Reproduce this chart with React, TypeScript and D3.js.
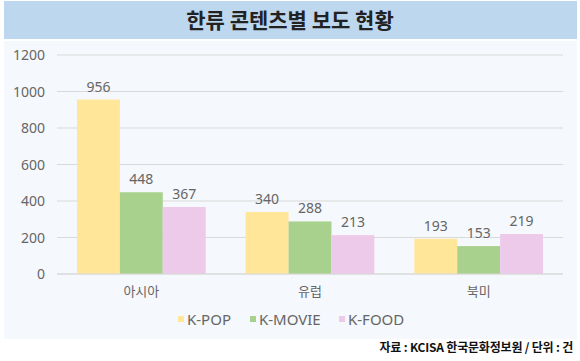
import React, { useEffect, useRef } from 'react';
import * as d3 from 'd3';

const regions = ['아시아', '유럽', '북미'];
const seriesNames = ['K-POP', 'K-MOVIE', 'K-FOOD'];
const kpop = [956, 340, 193];
const kmovie = [448, 288, 153];
const kfood = [367, 213, 219];
const yTicks = [0, 200, 400, 600, 800, 1000, 1200];
const colors = ['#FFE699', '#A9D18E', '#EECAEA'];

const W = 580;
const H = 361;
const FONT = "'Noto Sans', 'Noto Sans CJK KR', sans-serif";

const App = () => {
  const svgRef = useRef<SVGSVGElement>(null);

  useEffect(() => {
    const svg = d3.select(svgRef.current);
    svg.selectAll('*').remove();

    const values = [kpop, kmovie, kfood];

    // title band
    svg.append('rect').attr('x', 4).attr('y', 1).attr('width', 573).attr('height', 38).attr('fill', '#BDD7EE');
    svg.append('text').attr('x', 290).attr('y', 28).attr('text-anchor', 'middle')
      .attr('font-family', "'Noto Sans CJK KR', sans-serif").attr('font-weight', 700)
      .attr('font-size', 21).attr('fill', '#222').text('한류 콘텐츠별 보도 현황');

    // plot area background
    svg.append('rect').attr('x', 4).attr('y', 41).attr('width', 573).attr('height', 298).attr('fill', '#F5F8FC');

    const x0 = d3.scaleBand().domain(regions).range([57, 563]).paddingInner(0.237).paddingOuter(0.1185);
    const x1 = d3.scaleBand().domain(seriesNames).range([0, x0.bandwidth()]);
    const y = d3.scaleLinear().domain([0, 1200]).range([274, 55]);

    const grid = svg.append('g');
    grid.selectAll('line').data(yTicks).join('line')
      .attr('x1', 57).attr('x2', 563)
      .attr('y1', d => y(d)).attr('y2', d => y(d))
      .attr('stroke', '#D9D9D9').attr('stroke-width', 1);
    grid.selectAll('text').data(yTicks).join('text')
      .attr('x', 45).attr('y', d => y(d) + 5).attr('text-anchor', 'end')
      .attr('font-family', FONT).attr('font-size', 14).attr('fill', '#666')
      .text(d => d);

    seriesNames.forEach((s, si) => {
      const g = svg.append('g');
      g.selectAll('rect').data(regions).join('rect')
        .attr('x', (r) => (x0(r) as number) + (x1(s) as number))
        .attr('y', (_, i) => y(values[si][i]))
        .attr('width', x1.bandwidth())
        .attr('height', (_, i) => y(0) - y(values[si][i]))
        .attr('fill', colors[si]);
      g.selectAll('text').data(regions).join('text')
        .attr('x', (r) => (x0(r) as number) + (x1(s) as number) + x1.bandwidth() / 2)
        .attr('y', (_, i) => y(values[si][i]) - 8)
        .attr('text-anchor', 'middle')
        .attr('font-family', FONT).attr('font-size', 14).attr('fill', '#666')
        .text((_, i) => values[si][i]);
    });

    // baseline
    svg.append('line').attr('x1', 57).attr('x2', 563).attr('y1', y(0)).attr('y2', y(0))
      .attr('stroke', '#D9D9D9');

    svg.append('g').selectAll('text').data(regions).join('text')
      .attr('x', r => (x0(r) as number) + x0.bandwidth() / 2)
      .attr('y', 296).attr('text-anchor', 'middle')
      .attr('font-family', FONT).attr('font-size', 13).attr('fill', '#666')
      .text(r => r);

    // legend
    const legendX = [178, 250, 339];
    const lg = svg.append('g');
    seriesNames.forEach((s, i) => {
      lg.append('rect').attr('x', legendX[i]).attr('y', 316).attr('width', 6).attr('height', 6).attr('fill', colors[i]);
      lg.append('text').attr('x', legendX[i] + 9).attr('y', 324.5)
        .attr('font-family', FONT).attr('font-size', 15).attr('fill', '#666').text(s);
    });

    svg.append('text').attr('x', 573).attr('y', 352).attr('text-anchor', 'end')
      .attr('font-family', "'Noto Sans CJK KR', sans-serif").attr('font-weight', 700)
      .attr('font-size', 12).attr('fill', '#111').attr('letter-spacing', -0.2)
      .text('자료 : KCISA 한국문화정보원 / 단위 : 건');
  }, []);

  return (
    <svg ref={svgRef} width={W} height={H}
      style={{ position: 'absolute', left: 0, top: 0, background: '#fff' }} />
  );
};

export default App;
